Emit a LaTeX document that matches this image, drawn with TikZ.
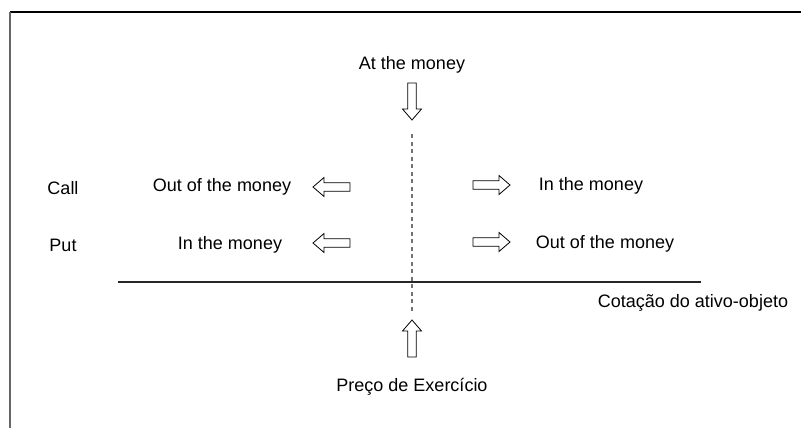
\documentclass[tikz,border=0pt]{standalone}
\usepackage{fontspec}
\setmainfont{Liberation Sans}
\begin{document}
\begin{tikzpicture}[x=1pt,y=-1pt,
  lbl/.style={font=\fontsize{18}{21}\selectfont, inner sep=0pt, anchor=center},
  blockarrow/.pic={\draw[fill=white, line width=0.8pt, line join=miter]
     (0,-4.3) -- (26,-4.3) -- (26,-9.5) -- (37,0) -- (26,9.5) -- (26,4.3) -- (0,4.3) -- cycle;},
  axisline/.style={line width=1.1pt, black!85}]
\useasboundingbox (0,0) rectangle (801,428);
% frame
\draw[line width=1.3pt, black] (10,12) -- (801,12);
\draw[line width=1.6pt, black!60] (10,12) -- (10,428);
% labels
\node[lbl] (atm) at (412,65) {At the money};
\node[lbl] (call) at (63,188) {Call};
\node[lbl] (put) at (63,245) {Put};
\node[lbl] (otmL) at (222,187) {Out of the money};
\node[lbl] (itmL) at (230,245) {In the money};
\node[lbl] (itmR) at (591,186) {In the money};
\node[lbl] (otmR) at (605,244) {Out of the money};
\node[lbl] (cot) at (693,303) {Cotação do ativo-objeto};
\node[lbl] (preco) at (412,387) {Preço de Exercício};
% axis
\coordinate (axL) at (118,282);
\coordinate (axR) at (701,282);
\draw[axisline] (axL) -- (axR);
% dashed strike line
\coordinate (dT) at (412,134);
\coordinate (dB) at (412,312);
\draw[line width=1.2pt, black!55, dash pattern=on 4pt off 3.5pt] (dT) -- (dB);
% block arrows
\pic[rotate=-90] at (412,83) {blockarrow};
\pic[rotate=90] at (412,357) {blockarrow};
\pic[rotate=180] at (350,187) {blockarrow};
\pic[rotate=180] at (350,243) {blockarrow};
\pic at (473,185) {blockarrow};
\pic at (473,242) {blockarrow};
\end{tikzpicture}
\end{document}
